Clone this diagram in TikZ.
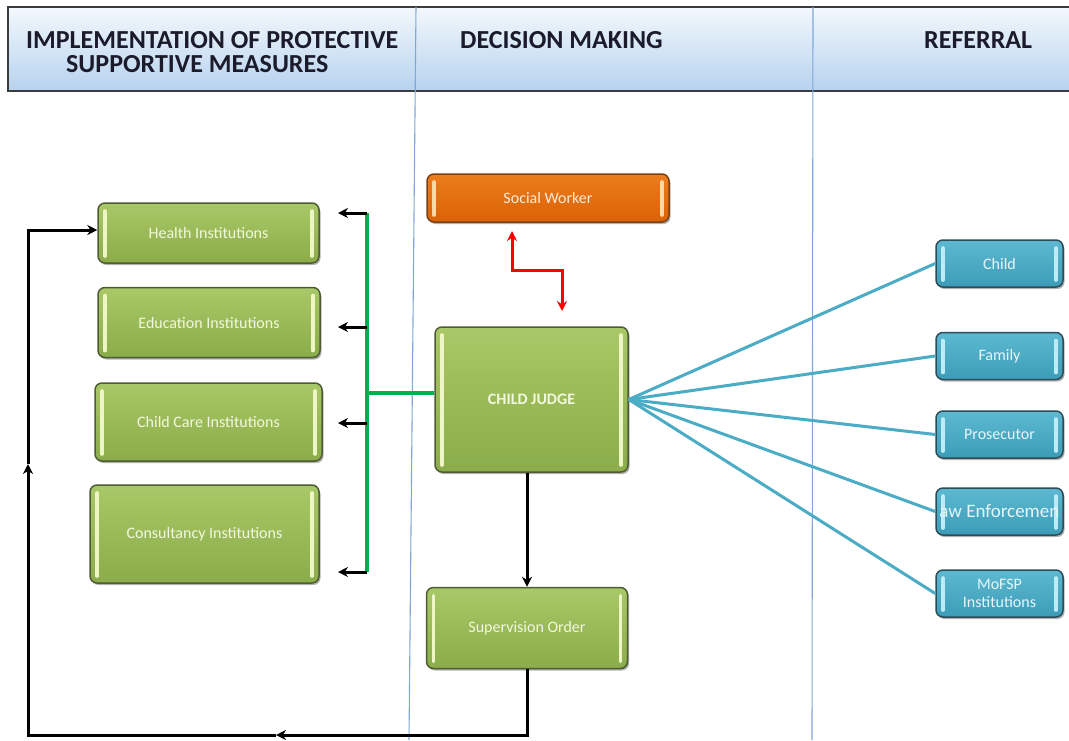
\documentclass[tikz,border=0pt]{standalone}
\usepackage{fontspec}
\setmainfont{Carlito}
\usetikzlibrary{arrows.meta,shadows}

\definecolor{gtop}{HTML}{A9C867}
\definecolor{gbot}{HTML}{8BAC4A}
\definecolor{gline}{HTML}{4E5C34}
\definecolor{gbar}{HTML}{EDF6C4}
\definecolor{gtext}{HTML}{F2F8DE}
\definecolor{btop}{HTML}{5DB9D1}
\definecolor{bbot}{HTML}{3C9CB7}
\definecolor{bline}{HTML}{2E4C58}
\definecolor{bbar}{HTML}{BDEBF7}
\definecolor{btext}{HTML}{E6F6FB}
\definecolor{otop}{HTML}{EC7D1E}
\definecolor{obot}{HTML}{DA6207}
\definecolor{oline}{HTML}{7A4214}
\definecolor{obar}{HTML}{FCD9A8}
\definecolor{otext}{HTML}{FDEBD8}
\definecolor{hdtop}{HTML}{F3F8FD}
\definecolor{hdbot}{HTML}{B7D2EE}
\definecolor{hdline}{HTML}{3C3C3C}
\definecolor{hdtext}{HTML}{1B1B2B}
\definecolor{lane}{HTML}{7FA8D8}
\definecolor{busgreen}{HTML}{00B050}
\definecolor{fanblue}{HTML}{4BACC6}

\tikzset{
  box/.style={rounded corners=7pt, line width=1.5pt, align=center, inner sep=0pt,
    font=\fontsize{16}{18}\selectfont,
    drop shadow={shadow xshift=1.5pt, shadow yshift=-2pt, opacity=0.3, fill=black}},
  bars/.style={path picture={
    \draw[#1, line width=3.6pt, line cap=round, sharp corners]
      ([xshift=7pt,yshift=-8pt]path picture bounding box.north west) --
      ([xshift=7pt,yshift=7pt]path picture bounding box.south west)
      ([xshift=-7pt,yshift=-8pt]path picture bounding box.north east) --
      ([xshift=-7pt,yshift=7pt]path picture bounding box.south east);}},
  gbox/.style={box, draw=gline, top color=gtop, bottom color=gbot, text=gtext, bars=gbar},
  bbox/.style={box, draw=bline, top color=btop, bottom color=bbot, text=btext, bars=bbar,
    minimum width=127pt, minimum height=47pt},
  obox/.style={box, draw=oline, top color=otop, bottom color=obot, text=otext, bars=obar},
  hdr/.style={font=\fontsize{26}{28}\bfseries\selectfont, text=hdtext, inner sep=0pt,
    text height=16pt, text depth=0pt},
  blk/.style={draw=black, line width=3pt, arrows={-Stealth[length=10pt,width=10pt]}},
  grn/.style={draw=busgreen, line width=3.2pt},
  fan/.style={draw=fanblue, line width=3pt},
  redl/.style={draw=red, line width=3pt,
    arrows={Stealth[length=10pt,width=10pt]-Stealth[length=10pt,width=10pt]}}
}

\begin{document}
\begin{tikzpicture}[x=1pt,y=-1pt]
\useasboundingbox (0,0) rectangle (1069,740);
\fill[white] (0,0) rectangle (1069,740);

% header band
\path[draw=hdline, line width=2pt, top color=hdtop, bottom color=hdbot]
  (8,7) rectangle (1085,91);

% swimlane dividers
\draw[lane, line width=1.1pt] (416,7) -- (409,740);
\draw[lane, line width=1.1pt] (813,7) -- (812,740);

% header titles
\node[hdr, anchor=base west] (hA1) at (26,48) {IMPLEMENTATION OF PROTECTIVE};
\node[hdr, anchor=base west] (hA2) at (66,72) {SUPPORTIVE MEASURES};
\node[hdr, anchor=base west] (hB) at (460,48) {DECISION MAKING};
\node[hdr, anchor=base west] (hC) at (924,48) {REFERRAL};

% protective measures
\node[gbox, minimum width=221pt, minimum height=60pt] (health) at (208.5,233) {Health Institutions};
\node[gbox, minimum width=222pt, minimum height=70pt] (edu) at (209,322.5) {Education Institutions};
\node[gbox, minimum width=227pt, minimum height=78pt] (care) at (208.5,422) {Child Care Institutions};
\node[gbox, minimum width=229pt, minimum height=98pt] (cons) at (204.5,534) {Consultancy Institutions};

% decision making
\node[obox, minimum width=242pt, minimum height=48pt] (sw) at (548,198) {Social Worker};
\node[gbox, minimum width=193pt, minimum height=145pt, font=\fontsize{16}{18}\bfseries\selectfont] (cj) at (531.5,399.5) {CHILD JUDGE};
\node[gbox, minimum width=201pt, minimum height=81pt] (so) at (527,628) {Supervision Order};

% referral
\node[bbox] (child) at (999.5,263.5) {Child};
\node[bbox] (family) at (999.5,356) {Family};
\node[bbox] (pros) at (999.5,434.5) {Prosecutor};
\node[bbox] (le) at (999.5,511.5) {};
\begin{scope}
  \clip ([xshift=5pt]le.north west) rectangle ([xshift=-5pt]le.south east);
  \node[text=btext, font=\fontsize{19}{21}\selectfont, inner sep=0pt] (leText) at ([xshift=-1pt]le.center) {Law Enforcement};
\end{scope}
\node[bbox, font=\fontsize{16}{17.5}\selectfont] (mofsp) at (999.5,593.5) {MoFSP\\Institutions};

% judge to referral bodies
\foreach \n in {child,family,pros,le,mofsp}
  \draw[fan] (cj.east) -- (\n.west);

% judge to protective measures
\coordinate (cjG) at ([yshift=6.5pt]cj.west);
\coordinate (busT) at (367,213);
\coordinate (busB) at (367,572);
\coordinate (a1) at (338,213);
\coordinate (a2) at (338,327);
\coordinate (a3) at (338,423);
\coordinate (a4) at (338,572);
\draw[grn] (cjG) -- (cjG -| busT);
\draw[grn] (busT) -- (busB);
\draw[blk] (busT) -- (a1);
\draw[blk] (busT |- a2) -- (a2);
\draw[blk] (busT |- a3) -- (a3);
\draw[blk] (busB) -- (a4);

% social worker link
\coordinate (rUp) at (512,231);
\coordinate (rA) at (512,270);
\coordinate (rB) at (562,270);
\coordinate (rDn) at (562,311);
\draw[redl, line join=miter] (rUp) -- (rA) -- (rB) -- (rDn);

% judge to supervision order
\draw[blk] (cj.south -| so.north) -- (so.north);

% supervision feedback loop
\coordinate (fbR) at (527,735);
\coordinate (fbM) at (276,735);
\coordinate (fbL) at (28,735);
\coordinate (fbU) at (28,464);
\coordinate (fbT) at (28,230);
\draw[blk, line join=miter] (so.south) -- (fbR) -- (fbM);
\draw[blk, line join=miter] (fbM) -- (fbL) -- (fbU);
\draw[blk, line join=miter] (fbU) -- (fbT) -- (health.west |- fbT);
\end{tikzpicture}
\end{document}
